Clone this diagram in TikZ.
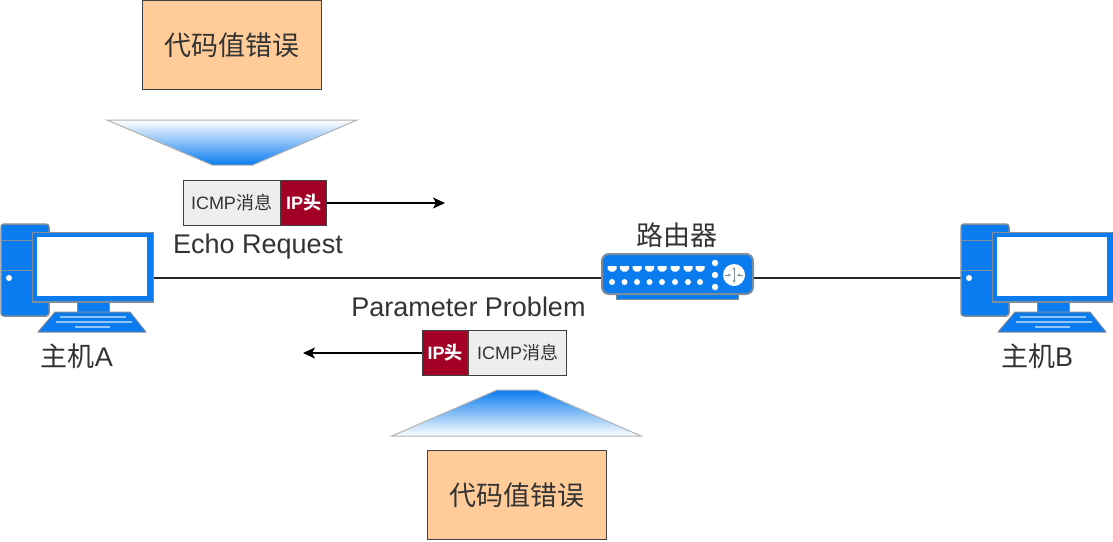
\documentclass[tikz,border=0pt]{standalone}
\usepackage{fontspec}
\usepackage{amsmath}
\setmainfont{Liberation Sans}
\newfontfamily\cjk{Noto Sans CJK SC}
\usetikzlibrary{arrows.meta}
\definecolor{iconblue}{HTML}{0A7CF0}
\definecolor{icongray}{HTML}{7F8C99}
\definecolor{ipred}{HTML}{A20025}
\definecolor{msggray}{HTML}{EEEEEE}
\definecolor{errfill}{HTML}{FFCC99}
\definecolor{txtgray}{HTML}{333333}
\tikzset{
  label27/.style={inner sep=0pt, text=txtgray, font=\fontsize{27}{30}\selectfont},
  errbox/.style={draw=black!75, fill=errfill, line width=1pt, minimum width=179pt, minimum height=89pt, inner sep=0pt, text=txtgray, font=\fontsize{27}{30}\selectfont},
  msgbox/.style={draw=black!75, fill=msggray, line width=1pt, minimum height=45pt, inner sep=0pt, text=txtgray, font=\fontsize{18}{20}\selectfont},
  ipbox/.style={draw=black!75, fill=ipred, line width=1pt, minimum width=45pt, minimum height=45pt, inner sep=0pt, text=white, font=\fontsize{18}{20}\selectfont\bfseries},
  funnel/.style={draw=black!30, line width=1pt, top color=#1},
  slot/.style={inner sep=0pt, minimum width=153pt, minimum height=50pt},
  hostslot/.style={inner sep=0pt, minimum width=153pt, minimum height=108pt},
  hosticon/.pic={
    \draw[fill=iconblue, draw=icongray, line width=1.5pt, rounded corners=3pt] (1,224) -- (49,224) -- (49,316) -- (1,316) -- cycle;
    \draw[draw=icongray, line width=1pt] (1,240) -- (32,240) (1,270) -- (32,270);
    \fill[white] (9,278) circle (3pt);
    \draw[fill=iconblue, draw=icongray, line width=1.5pt] (32.5,232.5) rectangle (153.5,302);
    \fill[white] (37,237) rectangle (147,296);
    \draw[fill=iconblue, draw=icongray, line width=0.6pt] (77,302.5) rectangle (109,312);
    \draw[fill=iconblue, draw=icongray, line width=1pt, line join=round] (55,312) -- (130,312) -- (146,332) -- (38,332) -- cycle;
    \draw[white!55!iconblue, line width=1.2pt] (60,317) -- (126,317) (56,322) -- (132,322) (75,327) -- (110,327);
  }
}

\begin{document}
\begin{tikzpicture}[x=1pt, y=-1pt, >={Stealth[length=12pt, width=11pt, inset=3pt]}]
  \useasboundingbox (0,0) rectangle (1113,541);
  % hosts and router
  \node[hostslot] (hostA) at (77.5,278) {};
  \node[hostslot] (hostB) at (1037.5,278) {};
  \node[slot] (router) at (677.5,278) {};
  \draw[line width=1.1pt, black!85] (hostA) -- (router);
  \draw[line width=1.1pt, black!85] (router) -- (hostB);
  \pic {hosticon};
  \pic[xshift=960pt] {hosticon};
  \draw[fill=iconblue, draw=icongray, line width=1pt] (616,288) rectangle (738,299);
  \draw[fill=iconblue, draw=icongray, line width=2pt, rounded corners=7pt] (602,254) rectangle (753,294);
  \foreach \x in {612,624.5,637,649.5,662,675,688,700} {
    \fill[white] (\x-4.5,266) -- (\x+4.5,266) -- (\x+4.5,269) -- (\x+2,271.5) -- (\x-2,271.5) -- (\x-4.5,269) -- cycle;
    \fill[white] (\x,282) circle (3pt);
  }
  \foreach \y in {263,275,287}
    \fill[white] (715,\y) circle (3.2pt);
  \fill[white] (734,275) circle (11pt);
  \draw[icongray, line width=0.8pt, <->, >={Stealth[length=3pt, width=3pt]}] (734,267) -- (734,283);
  \draw[icongray, line width=0.8pt, ->, >={Stealth[length=3pt, width=3pt]}] (725,275) -- (731,275);
  \draw[icongray, line width=0.8pt, ->, >={Stealth[length=3pt, width=3pt]}] (743,275) -- (737,275);
  \node[label27] (labelA) at (77,356) {{\cjk 主机}A};
  \node[label27] (labelB) at (1037,356) {{\cjk 主机}B};
  \node[label27] (labelR) at (677,235) {\cjk 路由器};
  % request going out
  \node[errbox] (errTop) at (232,45) {\cjk 代码值错误};
  \path[funnel=white, bottom color=iconblue] (107,120) -- (357,120) -- (253,165) -- (212,165) -- cycle;
  \node[msgbox, minimum width=97pt] (msgTop) at (231.5,203) {ICMP{\cjk 消息}};
  \node[ipbox, right=0pt] (ipTop) at (msgTop.east) {IP{\cjk 头}};
  \coordinate (endTop) at (445,203);
  \draw[->, line width=1.1pt] (ipTop) -- (endTop);
  \node[label27] (echo) at (258,247) {\raisebox{-2.5pt}{Echo Request}};
  % error coming back
  \node[label27] (param) at (468.5,307) {Parameter Problem};
  \node[ipbox] (ipBack) at (445,353) {IP{\cjk 头}};
  \node[msgbox, minimum width=98pt, right=0pt] (msgBack) at (ipBack.east) {ICMP{\cjk 消息}};
  \coordinate (endBack) at (303,353);
  \draw[->, line width=1.1pt] (ipBack) -- (endBack);
  \path[funnel=iconblue, bottom color=white] (392,436) -- (641,436) -- (537,390) -- (497,390) -- cycle;
  \node[errbox] (errBack) at (517,495) {\cjk 代码值错误};
\end{tikzpicture}
\end{document}
